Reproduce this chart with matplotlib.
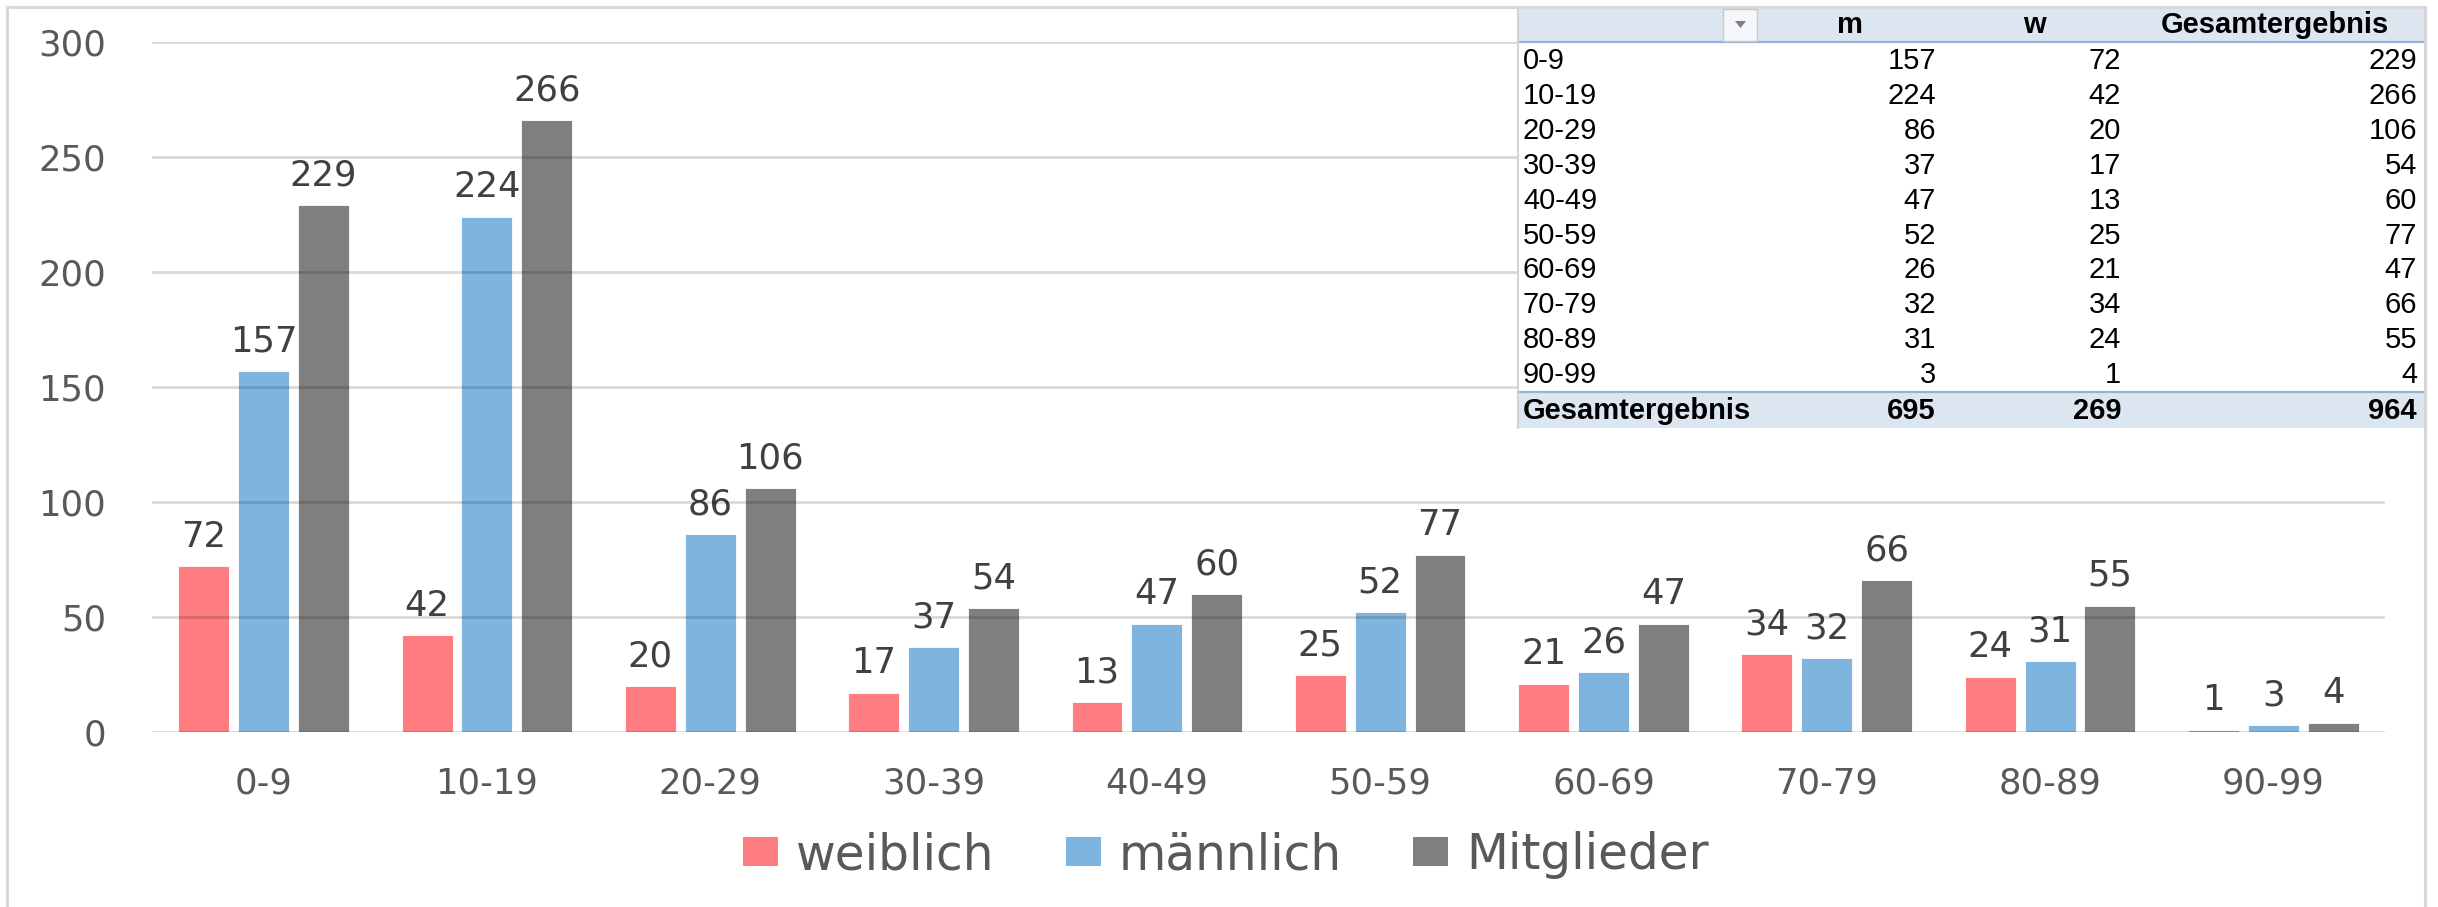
import numpy as np
import matplotlib
matplotlib.use("Agg")
import matplotlib.pyplot as plt
from matplotlib.patches import Rectangle, Polygon
from matplotlib.lines import Line2D

categories = ["0-9", "10-19", "20-29", "30-39", "40-49",
              "50-59", "60-69", "70-79", "80-89", "90-99"]
weiblich = [72, 42, 20, 17, 13, 25, 21, 34, 24, 1]
maennlich = [157, 224, 86, 37, 47, 52, 26, 32, 31, 3]
mitglieder = [229, 266, 106, 54, 60, 77, 47, 66, 55, 4]
series_names = ["weiblich", "männlich", "Mitglieder"]
colors = ["#FF7C80", "#7EB4DD", "#7F7F7F"]
yticks = [0, 50, 100, 150, 200, 250, 300]

W, H = 2438, 907
plt.rcParams["font.family"] = ["DejaVu Sans"]
fig = plt.figure(figsize=(W / 100, H / 100), dpi=100)


def fx(px):
    return px / W


def fy(py):
    return 1 - py / H


ax = fig.add_axes([fx(152), fy(732), fx(2385) - fx(152), fy(42) - fy(732)])

x = np.arange(len(categories))
width = 0.228
step = 0.268
for k, (vals, c) in enumerate(zip([weiblich, maennlich, mitglieder], colors)):
    bars = ax.bar(x + (k - 1) * step, vals, width, color=c, zorder=2,
                  edgecolor="white", linewidth=0.6)
    for b, v in zip(bars, vals):
        ax.annotate(str(v), (b.get_x() + b.get_width() / 2, v),
                    xytext=(0, 9), textcoords="offset points",
                    ha="center", va="bottom", fontsize=25.5, color="#404040")

ax.set_xlim(-0.5, len(categories) - 0.5)
ax.set_ylim(0, 300)
ax.set_yticks(yticks)
ax.set_xticks(x)
ax.set_xticklabels(categories)
for yv in yticks:
    ax.axhline(yv, color="black", alpha=0.15, lw=2, zorder=3)
for s in ax.spines.values():
    s.set_visible(False)
ax.tick_params(axis="y", length=0, pad=33, labelsize=25.5, labelcolor="#595959")
ax.tick_params(axis="x", length=0, pad=25, labelsize=25.5, labelcolor="#595959")

handles = [Rectangle((0, 0), 1, 1, facecolor=c) for c in colors]
fig.legend(handles, series_names, loc="center", bbox_to_anchor=(fx(1226), fy(855)),
           ncol=3, frameon=False, fontsize=35, labelcolor="#595959",
           handlelength=0.72, handleheight=0.54, handletextpad=0.37,
           columnspacing=1.46)

# outer chart frame
fig.add_artist(Rectangle((fx(7), fy(915)), fx(2425) - fx(7), fy(7) - fy(915),
                         transform=fig.transFigure, fill=False,
                         edgecolor="#D9D9D9", lw=2.2))

# pivot table overlay
tx0, tx1, ty0, ty1 = 1518, 2425, 7, 428
fig.add_artist(Rectangle((fx(tx0), fy(ty1)), fx(tx1) - fx(tx0), fy(ty0) - fy(ty1),
                         transform=fig.transFigure, facecolor="white",
                         edgecolor="none", zorder=5))
hdr_fill = "#DCE6F1"
line_blue = "#95B3D7"
fig.add_artist(Rectangle((fx(tx0), fy(42)), fx(tx1) - fx(tx0), fy(8) - fy(42),
                         transform=fig.transFigure, facecolor=hdr_fill,
                         edgecolor="none", zorder=6))
fig.add_artist(Rectangle((fx(tx0), fy(428)), fx(tx1) - fx(tx0), fy(392) - fy(428),
                         transform=fig.transFigure, facecolor=hdr_fill,
                         edgecolor="none", zorder=6))
for yy in (42, 392):
    fig.add_artist(Line2D([fx(tx0), fx(tx1)], [fy(yy), fy(yy)],
                          transform=fig.transFigure, color=line_blue, lw=1.6, zorder=7))
fig.add_artist(Line2D([fx(tx0), fx(tx0)], [fy(ty0), fy(ty1)],
                   transform=fig.transFigure, color="#D4D4D4", lw=1.5, zorder=7))
fig.add_artist(Line2D([fx(tx1), fx(tx1)], [fy(ty0), fy(ty1)],
                   transform=fig.transFigure, color="#D4D4D4", lw=2.2, zorder=7))
fig.add_artist(Line2D([fx(7), fx(tx1)], [fy(7), fy(7)],
                   transform=fig.transFigure, color="#D9D9D9", lw=2.2, zorder=7))

# dropdown button
fig.add_artist(Rectangle((fx(1723), fy(41)), fx(1757) - fx(1723), fy(9) - fy(41),
                         transform=fig.transFigure, facecolor="#F4F6F9",
                         edgecolor="#C8C8C8", lw=1, zorder=7))
fig.add_artist(Polygon([[fx(1735), fy(21)], [fx(1746), fy(21)], [fx(1740.5), fy(28)]],
                       closed=True, transform=fig.transFigure,
                       facecolor="#7F7F7F", edgecolor="none", zorder=8))

tfont = ["Liberation Sans Narrow", "Liberation Sans"]
tsize = 21
col_right = [1936, 2121, 2417]
col_center = [1850, 2034, 2275]
for cx, lab in zip(col_center, ["m", "w", "Gesamtergebnis"]):
    fig.text(fx(cx), fy(25), lab, ha="center", va="center", family=tfont,
             fontsize=tsize, fontweight="bold", color="black", zorder=9)

for i, cat in enumerate(categories):
    yy = 61 + 34.9 * i
    fig.text(fx(1523), fy(yy), cat, ha="left", va="center", family=tfont,
             fontsize=tsize, color="black", zorder=9)
    for cr, v in zip(col_right, [maennlich[i], weiblich[i], mitglieder[i]]):
        fig.text(fx(cr), fy(yy), str(v), ha="right", va="center", family=tfont,
                 fontsize=tsize, color="black", zorder=9)

fig.text(fx(1523), fy(411), "Gesamtergebnis", ha="left", va="center", family=tfont,
         fontsize=tsize, fontweight="bold", color="black", zorder=9)
for cr, v in zip(col_right, [sum(maennlich), sum(weiblich), sum(mitglieder)]):
    fig.text(fx(cr), fy(411), str(v), ha="right", va="center", family=tfont,
             fontsize=tsize, fontweight="bold", color="black", zorder=9)

fig.savefig("out.png", dpi=100, facecolor="white")
